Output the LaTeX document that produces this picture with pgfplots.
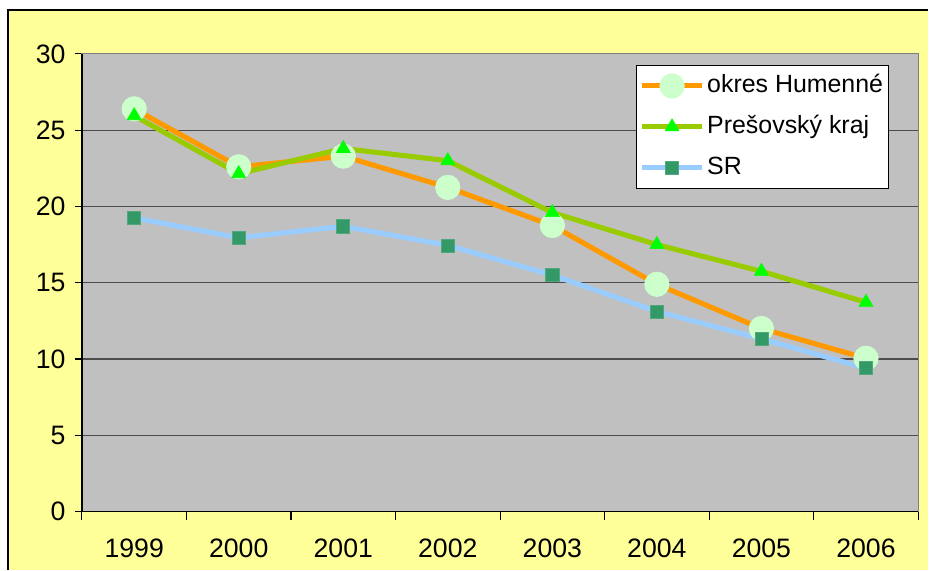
\documentclass[border=0pt]{standalone}
\usepackage{fontspec}
\setmainfont{Liberation Sans}
\usepackage{pgfplots}
\pgfplotsset{compat=1.18}

\definecolor{bgyellow}{HTML}{FFFF99}
\definecolor{plotgray}{HTML}{C0C0C0}
\definecolor{humorange}{HTML}{FF9900}
\definecolor{humfill}{HTML}{CCFFCC}
\definecolor{presline}{HTML}{99CC00}
\definecolor{presmark}{HTML}{00FF00}
\definecolor{srline}{HTML}{99CCFF}
\definecolor{srmark}{HTML}{339966}

\begin{document}
\begin{tikzpicture}[x=0.75pt,y=0.75pt]
% background, in reference pixels; axis box lower left sits at (0,0)
\fill[white] (-82,-58) rectangle (847,512);
\fill[bgyellow] (-74,-58) rectangle (847,502);
\draw[black, line width=1.2pt] (-74,-58) -- (-74,502) -- (847,502);

\begin{axis}[
    scale only axis,
    width=627.75pt, height=343.5pt,
    axis background/.style={fill=plotgray},
    axis line style={draw=black!50, line width=0.8pt},
    xmin=-0.5, xmax=7.5,
    ymin=0, ymax=30,
    ytick={0,5,...,30},
    xtick={0,...,7},
    xticklabels={1999,2000,2001,2002,2003,2004,2005,2006},
    minor xtick={-0.5,0.5,...,7.5},
    tick pos=left,
    tick align=outside,
    major tick length=5.25pt,
    minor tick length=6pt,
    tick style={black, line width=0.8pt},
    major x tick style={draw=none},
    ymajorgrids,
    grid style={black!70, line width=0.8pt},
    /pgf/number format/assume math mode=true,
    ticklabel style={font=\fontsize{20}{23}\selectfont},
    xticklabel style={yshift=-12pt},
    yticklabel style={xshift=-3.6pt},
    clip=false,
    legend image code/.code={
        \draw[mark repeat=2, mark phase=2, #1]
            plot coordinates {(0pt,0pt) (22.5pt,0pt) (45pt,0pt)};
    },
    legend style={
        at={(rel axis cs:0.663,0.976)}, anchor=north west,
        fill=white, draw=black, line width=0.75pt,
        font=\fontsize{18.7}{22}\selectfont,
        inner xsep=2pt, inner ysep=4.4pt,
        row sep=8.75pt,
        nodes={inner sep=2pt, text height=14pt, text depth=4pt},
        cells={anchor=west},
    },
]

\addplot[color=humorange, line width=3.8pt, mark=*, mark size=9.2pt,
    mark options={fill=humfill, draw=humfill, line width=0.5pt}]
    coordinates {(0,26.4) (1,22.6) (2,23.3) (3,21.25) (4,18.75) (5,14.9) (6,12.0) (7,10.05)};
\addlegendentry{okres Humenné}

\addplot[color=presline, line width=3.8pt, mark=triangle*, mark size=6pt,
    mark options={fill=presmark, draw=presmark, line width=0.5pt}]
    coordinates {(0,25.95) (1,22.15) (2,23.8) (3,23.0) (4,19.6) (5,17.5) (6,15.75) (7,13.72)};
\addlegendentry{Prešovský kraj}

\addplot[color=srline, line width=3.8pt, mark=square*, mark size=4.9pt,
    mark options={fill=srmark, draw=srmark!85!white, line width=0.5pt}]
    coordinates {(0,19.25) (1,17.95) (2,18.7) (3,17.45) (4,15.5) (5,13.12) (6,11.32) (7,9.4)};
\addlegendentry{SR}

\draw[black, line width=0.9pt] (rel axis cs:0,1) -- (rel axis cs:0,0) -- (rel axis cs:1,0);
\end{axis}
\end{tikzpicture}
\end{document}
